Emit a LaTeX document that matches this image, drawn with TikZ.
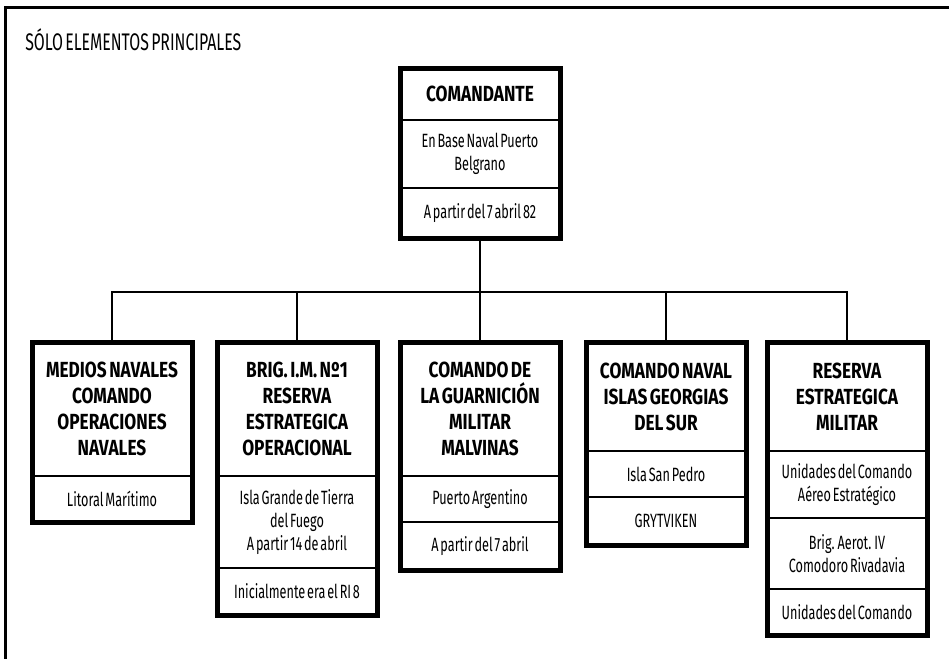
\documentclass[tikz,border=0pt]{standalone}
\usepackage{fontspec}
\setmainfont{Fira Sans}[FakeStretch=0.66, WordSpace=0.55]
\newfontfamily\headfont{Fira Sans}[FakeStretch=0.79, WordSpace=0.6]

\begin{document}
\begin{tikzpicture}[x=0.75pt,y=-0.75pt,
  head/.style={draw, line width=1.5pt, outer sep=0pt, text width=110pt, inner xsep=5pt, align=flush center, font=\headfont\bfseries\fontsize{16.4}{19.5}\selectfont},
  cell/.style={draw, line width=1.5pt, outer sep=0pt, text width=110pt, inner xsep=5pt, align=flush center, font=\fontsize{14.4}{17.4}\selectfont},
  box/.style={line width=3.75pt},
  link/.style={line width=1.8pt}]
\useasboundingbox (0,0) rectangle (949,658);
\draw[line width=2.25pt] (5,660) -- (5,7) -- (951,7);
\node[anchor=west, inner sep=0pt, font=\fontsize{18}{20}\selectfont] (title) at (25,40) {SÓLO ELEMENTOS PRINCIPALES};

% comandante
\node[head, minimum height=39pt] (t0) at (480,94) {COMANDANTE};
\node[cell, minimum height=51pt] (t1) at (480,154) {En Base Naval Puerto\\Belgrano};
\node[cell, minimum height=37.5pt] (t2) at (480,213) {A partir del 7 abril 82};
\draw[box] (t0.north west) rectangle (t2.south east);

% medios navales
\node[head, minimum height=100.5pt] (h1) at (112,409) {MEDIOS NAVALES\\COMANDO\\OPERACIONES\\NAVALES};
\node[cell, minimum height=34.5pt] (a1) at (112,499) {Litoral Marítimo};
\draw[box] (h1.north west) rectangle (a1.south east);

% brigada
\node[head, minimum height=100.5pt] (h2) at (297,409) {BRIG. I.M. Nº1\\RESERVA\\ESTRATEGICA\\OPERACIONAL};
\node[cell, minimum height=69pt] (a2) at (297,522) {Isla Grande de Tierra\\del Fuego\\A partir 14 de abril};
\node[cell, minimum height=35.25pt] (b2) at (297,591.5) {Inicialmente era el RI 8};
\draw[box] (h2.north west) rectangle (b2.south east);

% malvinas
\node[head, minimum height=100.5pt] (h3) at (480,409) {COMANDO DE\\LA GUARNICIÓN\\MILITAR\\MALVINAS};
\node[cell, minimum height=34.5pt] (a3) at (480,499) {Puerto Argentino};
\node[cell, minimum height=36pt] (b3) at (480,546) {A partir del 7 abril};
\draw[box] (h3.north west) rectangle (b3.south east);

% georgias
\node[head, minimum height=81.75pt] (h4) at (666,396.5) {COMANDO NAVAL\\ISLAS GEORGIAS\\DEL SUR};
\node[cell, minimum height=34.5pt] (a4) at (666,474) {Isla San Pedro};
\node[cell, minimum height=36pt] (b4) at (666,521) {GRYTVIKEN};
\draw[box] (h4.north west) rectangle (b4.south east);

% reserva
\node[head, minimum height=81.75pt] (h5) at (847,396.5) {RESERVA\\ESTRATEGICA\\MILITAR};
\node[cell, minimum height=50.25pt] (a5) at (847,484.5) {Unidades del Comando\\Aéreo Estratégico};
\node[cell, minimum height=53.25pt] (b5) at (847,553.5) {Brig. Aerot. IV\\Comodoro Rivadavia};
\node[cell, minimum height=34.5pt] (c5) at (847,612) {Unidades del Comando};
\draw[box] (h5.north west) rectangle (c5.south east);

% lineas
\coordinate (bus) at (480,292);
\draw[link] (t2.south) -- (bus);
\draw[link] (h1.north) |- (bus) -| (h5.north);
\draw[link] (h2.north) -- (h2.north |- bus);
\draw[link] (h3.north) -- (bus);
\draw[link] (h4.north) -- (h4.north |- bus);
\end{tikzpicture}
\end{document}
